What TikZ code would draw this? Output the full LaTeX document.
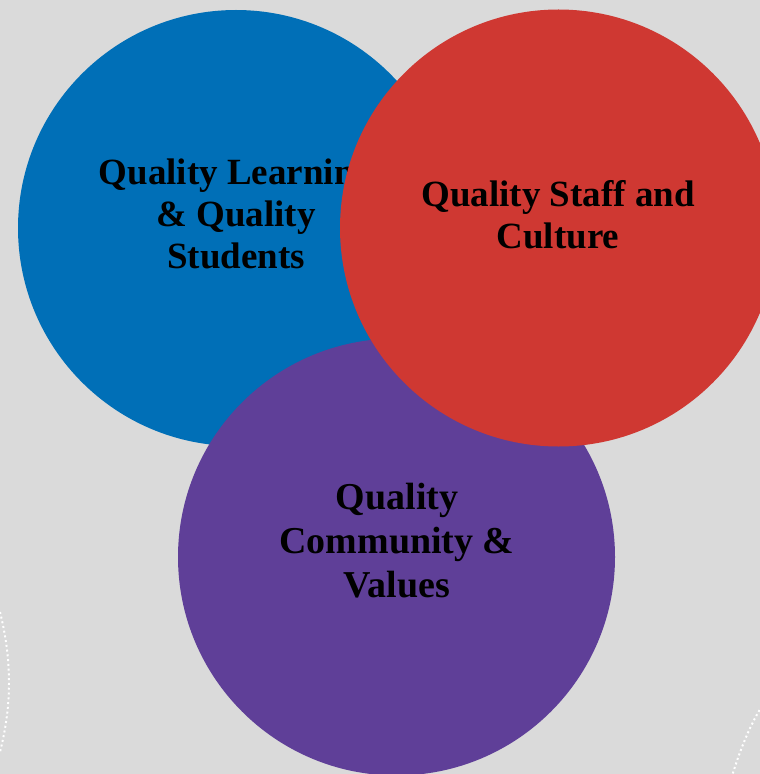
\documentclass[tikz,border=0pt]{standalone}
\usepackage{fontspec}
\setmainfont{Liberation Serif}
\usepackage{xcolor}
\usepackage{tikz}
\usetikzlibrary{positioning}

\definecolor{fondo}{HTML}{DADADA}
\definecolor{azul}{HTML}{006FB7}
\definecolor{rojo}{HTML}{CF3832}
\definecolor{morado}{HTML}{5F3F98}

\tikzset{
  disco/.style={circle, inner sep=0pt, minimum size=#1*0.025cm},
  texto/.style={align=center, text=black, font=\bfseries\fontsize{26.3}{29.9}\selectfont},
  punteado/.style={white, dotted, line width=1.4pt}
}

\begin{document}
\begin{tikzpicture}[x=0.025cm, y=-0.025cm]
  % Fondo
  \clip (0,0) rectangle (760,774);
  \fill[fondo] (0,0) rectangle (760,774);

  % Arcos punteados en las esquinas
  \coordinate (izqA) at (0,612);
  \coordinate (izqB) at (0,752);
  \coordinate (derA) at (762,706);
  \coordinate (derB) at (732,776);
  \draw[punteado] (izqA) .. controls (12,660) and (12,705) .. (izqB);
  \draw[punteado] (derA) .. controls (750,725) and (740,750) .. (derB);

  % Circulo azul
  \node[disco=436, fill=azul] (aprendizaje) at (236,228) {};
  \node[texto] (txtAprendizaje) at (236,214) {Quality Learning\\ \& Quality\\ Students};

  % Circulo morado
  \node[disco=437, fill=morado] (comunidad) at (396.5,557) {};
  \node[texto, font=\bfseries\fontsize{27}{31.3}\selectfont] (txtComunidad) at (397,541) {Quality\\ Community \&\\ Values};

  % Circulo rojo
  \node[disco=437, fill=rojo] (personal) at (558.5,228) {};
  \node[texto] (txtPersonal) at (558,215) {Quality Staff and\\ Culture};
\end{tikzpicture}
\end{document}
